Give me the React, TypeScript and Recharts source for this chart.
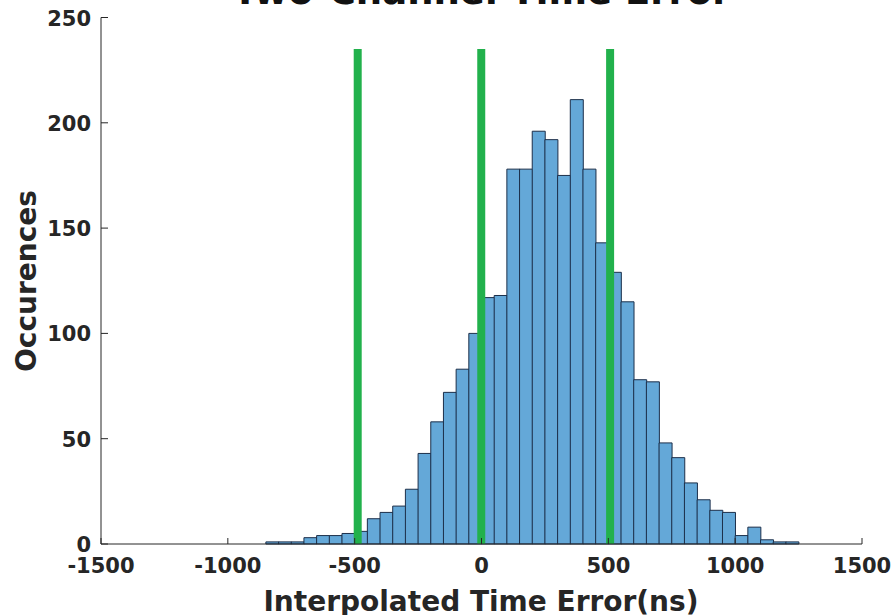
import React from "react";
import { ComposedChart, Bar, XAxis, YAxis, ReferenceLine } from "recharts";

document.body.style.margin = "0";

// histogram bins (left edge, ns) and counts
const binStarts = [
  -850, -800, -750, -700, -650, -600, -550, -500, -450, -400, -350, -300, -250, -200,
  -150, -100, -50, 0, 50, 100, 150, 200, 250, 300, 350, 400, 450, 500, 550, 600, 650,
  700, 750, 800, 850, 900, 950, 1000, 1050, 1100, 1150, 1200,
];
const counts = [
  1, 1, 1, 3, 4, 4, 5, 6, 12, 15, 18, 26, 43, 58,
  72, 83, 100, 117, 118, 178, 178, 196, 192, 175, 211, 178, 143, 129, 115, 78, 77,
  48, 41, 29, 21, 16, 15, 4, 8, 2, 1, 1,
];
const binWidth = 50;

// green markers
const markerX = [-488, -1, 507];
const markerTop = 235;

const xTicks = [-1500, -1000, -500, 0, 500, 1000, 1500];
const yTicks = [0, 50, 100, 150, 200, 250];

const FONT = "'DejaVu Sans', sans-serif";
const INK = "#262626";

const chartData = binStarts.map((b, i) => ({ mid: b + binWidth / 2, count: counts[i] }));

const XTick = ({ x, y, payload }: any) => (
  <g>
    <line x1={x} x2={x} y1={y} y2={y - 6} stroke={INK} strokeWidth={1} />
    <text x={x} y={y + 29} textAnchor="middle" fontFamily={FONT} fontWeight="bold" fontSize={21} fill={INK}>
      {payload.value}
    </text>
  </g>
);

const YTick = ({ x, y, payload }: any) => (
  <g>
    <line x1={x} x2={x + 7} y1={y} y2={y} stroke={INK} strokeWidth={1} />
    <text x={x - 10} y={y + 8} textAnchor="end" fontFamily={FONT} fontWeight="bold" fontSize={21} fill={INK}>
      {payload.value}
    </text>
  </g>
);

export default function App() {
  return (
    <ComposedChart
      width={895}
      height={615}
      data={chartData}
      margin={{ top: 17.5, right: 33, bottom: 0, left: 0 }}
      barCategoryGap={0}
      barGap={0}
    >
      <XAxis
        dataKey="mid"
        type="number"
        domain={[-1500, 1500]}
        allowDataOverflow
        ticks={xTicks}
        height={71}
        tickSize={0}
        tickMargin={0}
        tickLine={false}
        axisLine={{ stroke: INK, strokeWidth: 1 }}
        tick={<XTick />}
      />
      <YAxis
        type="number"
        domain={[0, 250]}
        ticks={yTicks}
        width={101}
        tickSize={0}
        tickMargin={0}
        tickLine={false}
        axisLine={{ stroke: INK, strokeWidth: 1 }}
        tick={<YTick />}
      />
      <Bar dataKey="count" fill="#64a8d8" stroke="#1c2f4a" strokeWidth={1} isAnimationActive={false} />
      {markerX.map((mx) => (
        <ReferenceLine
          key={mx}
          segment={[
            { x: mx, y: 0 },
            { x: mx, y: markerTop },
          ]}
          stroke="#22b14c"
          strokeWidth={8}
          ifOverflow="visible"
        />
      ))}
      <text x={481.5} y={4} textAnchor="middle" fontFamily={FONT} fontWeight="bold" fontSize={37} fill="#111">
        Two-Channel Time Error
      </text>
      <text
        x={36}
        y={281}
        transform="rotate(-90, 36, 281)"
        textAnchor="middle"
        fontFamily={FONT}
        fontWeight="bold"
        fontSize={28}
        fill={INK}
      >
        Occurences
      </text>
      <text x={481} y={611} textAnchor="middle" fontFamily={FONT} fontWeight="bold" fontSize={28} fill={INK}>
        Interpolated Time Error(ns)
      </text>
    </ComposedChart>
  );
}
